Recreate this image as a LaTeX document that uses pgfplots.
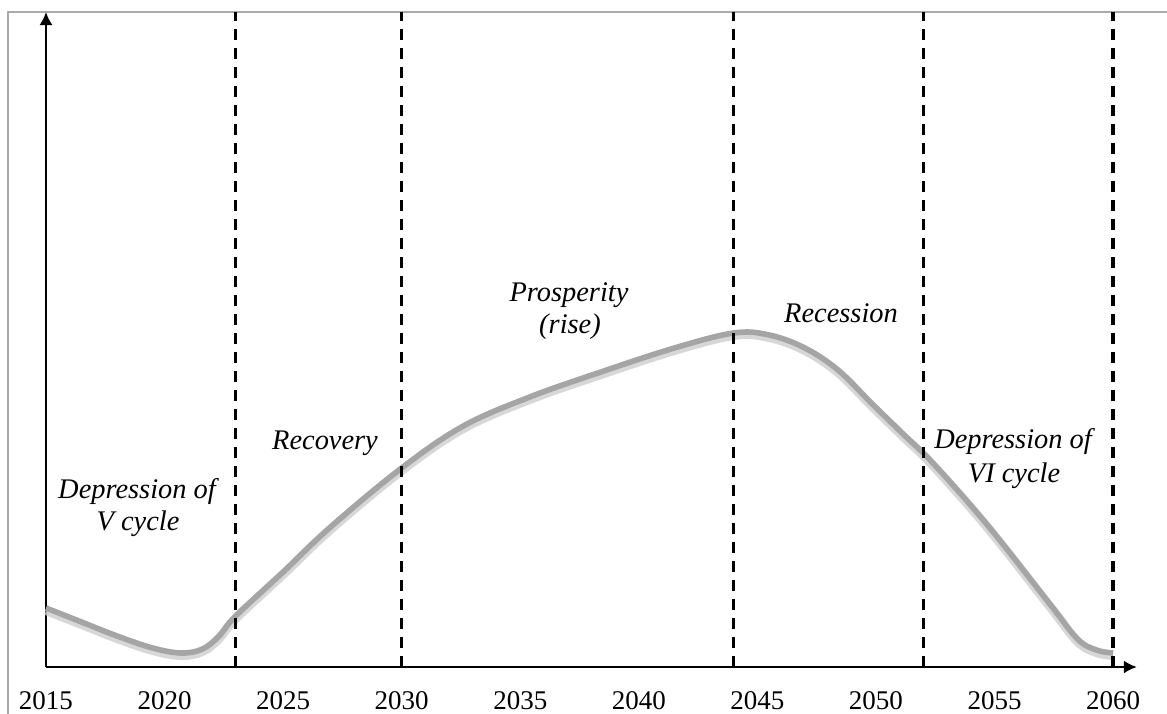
\documentclass[border=0pt]{standalone}
\usepackage{fontspec}
\setmainfont{Liberation Serif}
\usepackage{pgfplots}
\pgfplotsset{compat=1.18}
\usetikzlibrary{arrows.meta}
\definecolor{framegray}{RGB}{170,170,170}
\definecolor{curvegray}{RGB}{165,165,165}
\definecolor{shadowgray}{RGB}{205,205,205}
\pgfplotstableread{
year val
2015 59
2016.5 45
2018 31
2019.5 19
2020.7 14
2021.6 18
2022.3 31
2023 51
2025 95
2027 140
2030 199
2032.6 241
2035.4 270
2038.4 295
2041.5 319
2044 334
2045.5 332
2047 319
2048.4 297
2049.8 264
2051.1 234
2052.4 204
2054.7 142
2057.3 64
2058.5 28
2059.3 17
2060 14
}\curvedata
\begin{document}
\begin{tikzpicture}
\useasboundingbox (0,0) rectangle (583.5pt,-356.5pt);
\draw[framegray, line width=1pt] (4.1pt,-370pt) -- (4.1pt,-5.9pt) -- (600pt,-5.9pt);
\begin{axis}[
  at={(23pt,-333.5pt)}, anchor=south west,
  scale only axis, width=545.4pt, height=327.5pt,
  xmin=2015, xmax=2061, ymin=0, ymax=655,
  axis x line=bottom, axis y line=left,
  axis line style={line width=1pt, -{Latex[length=6.5pt,width=6.5pt]}},
  xtick={2015,2020,...,2060}, ytick=\empty,
  major tick length=0pt,
  /pgf/number format/assume math mode=true,
  /pgf/number format/1000 sep={},
  xticklabel style={font=\fontsize{13.5}{15}\selectfont, yshift=-8.5pt},
  clip=false,
]
\addplot[shadowgray, line width=4.6pt, smooth, tension=0.6, yshift=-1.2pt, opacity=0.8] table[x=year,y=val] {\curvedata};
\addplot[curvegray, line width=2.8pt, smooth, tension=0.6] table[x=year,y=val] {\curvedata};
\addplot[black, line width=1.6pt, dash pattern=on 5.5pt off 4pt] coordinates {(2023,0) (2023,655)};
\addplot[black, line width=1.6pt, dash pattern=on 5.5pt off 4pt] coordinates {(2030,0) (2030,655)};
\addplot[black, line width=1.6pt, dash pattern=on 5.5pt off 4pt] coordinates {(2044,0) (2044,655)};
\addplot[black, line width=1.6pt, dash pattern=on 5.5pt off 4pt] coordinates {(2052,0) (2052,655)};
\addplot[black, line width=1.6pt, dash pattern=on 5.5pt off 4pt] coordinates {(2060,0) (2060,655)};
\end{axis}
\begin{scope}[every node/.style={anchor=base, inner sep=0pt, font=\itshape\fontsize{14.2}{16}\selectfont}]
\node at (68.5pt,-249pt) {Depression of};
\node at (69pt,-265pt) {V cycle};
\node at (162.5pt,-224.5pt) {Recovery};
\node at (284.5pt,-150.5pt) {Prosperity};
\node at (285pt,-166.5pt) {(rise)};
\node at (420.5pt,-161pt) {Recession};
\node at (506.5pt,-224pt) {Depression of};
\node at (507pt,-241pt) {VI cycle};
\end{scope}
\end{tikzpicture}
\end{document}
